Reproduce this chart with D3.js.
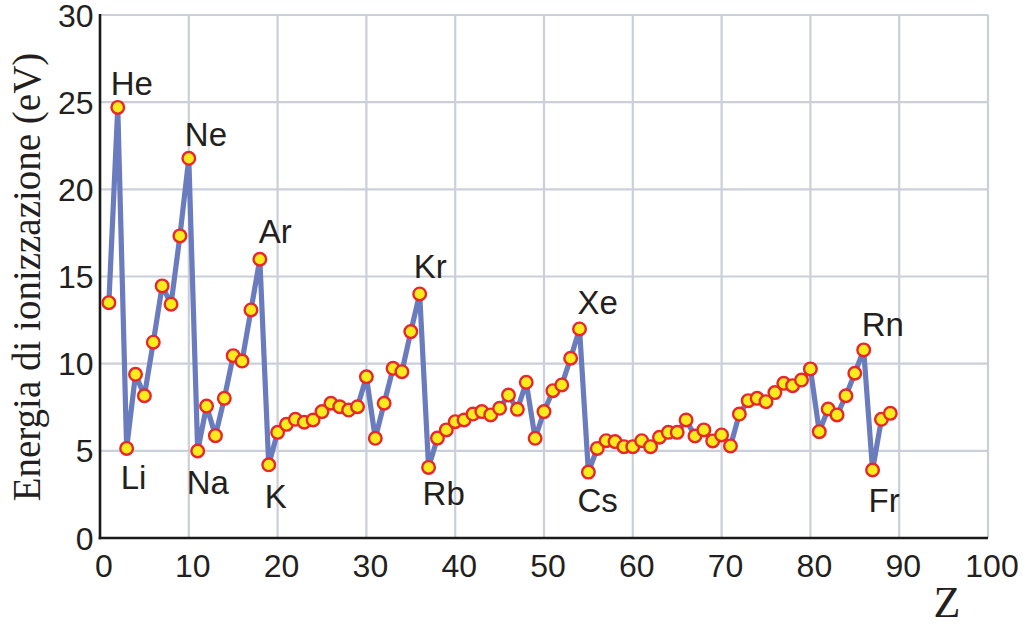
<!DOCTYPE html>
<html>
<head>
<meta charset="utf-8">
<script src="https://cdn.jsdelivr.net/npm/d3@7"></script>
<style>
  html, body { margin: 0; padding: 0; background: #ffffff; }
  svg { display: block; }
</style>
</head>
<body>
<svg id="chart" width="1023" height="625"></svg>
<script>
// ---- data ----
const atomicNumbers = d3.range(1, 90); // Z = 1 .. 89
const ionizationEnergy = [
  13.5, 24.7, 5.14, 9.39, 8.16, 11.23, 14.46, 13.41, 17.33, 21.78,
  4.99, 7.57, 5.87, 8.01, 10.46, 10.15, 13.08, 15.99, 4.2, 6.06,
  6.52, 6.81, 6.64, 6.77, 7.25, 7.73, 7.53, 7.34, 7.53, 9.25,
  5.72, 7.73, 9.73, 9.54, 11.84, 14.0, 4.05, 5.73, 6.2, 6.67,
  6.77, 7.11, 7.25, 7.06, 7.44, 8.2, 7.38, 8.93, 5.72, 7.25,
  8.45, 8.78, 10.31, 11.99, 3.78, 5.14, 5.58, 5.53, 5.24, 5.24,
  5.58, 5.24, 5.78, 6.06, 6.06, 6.77, 5.85, 6.2, 5.57, 5.91,
  5.28, 7.11, 7.88, 8.01, 7.82, 8.34, 8.87, 8.74, 9.06, 9.7,
  6.1, 7.4, 7.06, 8.16, 9.45, 10.79, 3.9, 6.81, 7.15
];
const xTicks = [0, 10, 20, 30, 40, 50, 60, 70, 80, 90, 100];
const yTicks = [0, 5, 10, 15, 20, 25, 30];
const labelSymbols = ["He", "Ne", "Ar", "Kr", "Xe", "Rn", "Li", "Na", "K", "Rb", "Cs", "Fr"];
const labelZ       = [2, 10, 18, 36, 54, 86, 3, 11, 19, 37, 55, 87];
const yTitle = "Energia di ionizzazione (eV)";
const xTitle = "Z";

// ---- layout / style ----
const labelOffsets = {
  He: [-5, -12], Ne: [-2, -12], Ar: [1, -16], Kr: [-4, -16], Xe: [0, -15], Rn: [0, -14],
  Li: [-4, 41], Na: [-9, 43], K: [-2, 43], Rb: [-4, 38], Cs: [-9, 40], Fr: [-2, 42]
};
const sans = "'Liberation Sans', Arial, Helvetica, sans-serif";
const serif = "'Liberation Serif', 'Times New Roman', Times, serif";
const gridColor = "#cbcfd9";
const lineColor = "#6a7bbe";
const dotFill = "#f8ec1c";
const dotStroke = "#e8262b";

const svg = d3.select("#chart");
svg.append("rect").attr("width", 1023).attr("height", 625).attr("fill", "#ffffff");

const x = d3.scaleLinear().domain([0, 100]).range([100, 988]);
const y = d3.scaleLinear().domain([0, 30]).range([538, 15]);

// grid
const grid = svg.append("g");
grid.selectAll("line.h").data(yTicks.filter(d => d > 0)).join("line")
  .attr("x1", x(0)).attr("x2", x(100))
  .attr("y1", d => y(d)).attr("y2", d => y(d))
  .attr("stroke", gridColor).attr("stroke-width", 2.2);
grid.selectAll("line.v").data(xTicks.filter(d => d > 0)).join("line")
  .attr("y1", y(0)).attr("y2", y(30))
  .attr("x1", d => x(d)).attr("x2", d => x(d))
  .attr("stroke", gridColor).attr("stroke-width", 2.2);

// axes lines
svg.append("line").attr("x1", x(0)).attr("x2", x(0)).attr("y1", y(30) - 1).attr("y2", y(0) + 1.3)
  .attr("stroke", "#1a1a1a").attr("stroke-width", 2.6);
svg.append("line").attr("x1", x(0) - 1.3).attr("x2", x(100)).attr("y1", y(0)).attr("y2", y(0))
  .attr("stroke", "#1a1a1a").attr("stroke-width", 2.6);

// tick labels
svg.append("g").selectAll("text").data(yTicks).join("text")
  .attr("x", 93.5).attr("y", d => y(d)).attr("dy", "0.36em")
  .attr("text-anchor", "end")
  .attr("font-family", sans).attr("font-size", 32).attr("fill", "#231f20")
  .text(d => d);
svg.append("g").selectAll("text").data(xTicks).join("text")
  .attr("x", d => x(d) + 4).attr("y", 577)
  .attr("text-anchor", "middle")
  .attr("font-family", sans).attr("font-size", 32).attr("fill", "#231f20")
  .text(d => d);

// titles
svg.append("text")
  .attr("transform", "translate(40,277) rotate(-90)")
  .attr("text-anchor", "middle")
  .attr("font-family", serif).attr("font-size", 39).attr("fill", "#231f20")
  .text(yTitle);
svg.append("text")
  .attr("x", 947).attr("y", 617)
  .attr("text-anchor", "middle")
  .attr("font-family", serif).attr("font-size", 44).attr("fill", "#231f20")
  .text(xTitle);

// series
const points = atomicNumbers.map((z, i) => ({ z, v: ionizationEnergy[i] }));
const line = d3.line().x(d => x(d.z)).y(d => y(d.v));
svg.append("path").datum(points)
  .attr("d", line).attr("fill", "none")
  .attr("stroke", lineColor).attr("stroke-width", 5.2)
  .attr("stroke-linejoin", "miter").attr("stroke-miterlimit", 3);
svg.append("g").selectAll("circle").data(points).join("circle")
  .attr("cx", d => x(d.z)).attr("cy", d => y(d.v)).attr("r", 6.3)
  .attr("fill", dotFill).attr("stroke", dotStroke).attr("stroke-width", 2.4);

// element labels
const labels = labelSymbols.map((s, i) => ({ s, z: labelZ[i], v: ionizationEnergy[labelZ[i] - 1] }));
svg.append("g").selectAll("text").data(labels).join("text")
  .attr("x", d => x(d.z) + labelOffsets[d.s][0] - 2)
  .attr("y", d => y(d.v) + labelOffsets[d.s][1])
  .attr("font-family", sans).attr("font-size", 33).attr("fill", "#231f20")
  .text(d => d.s);
</script>
</body>
</html>
